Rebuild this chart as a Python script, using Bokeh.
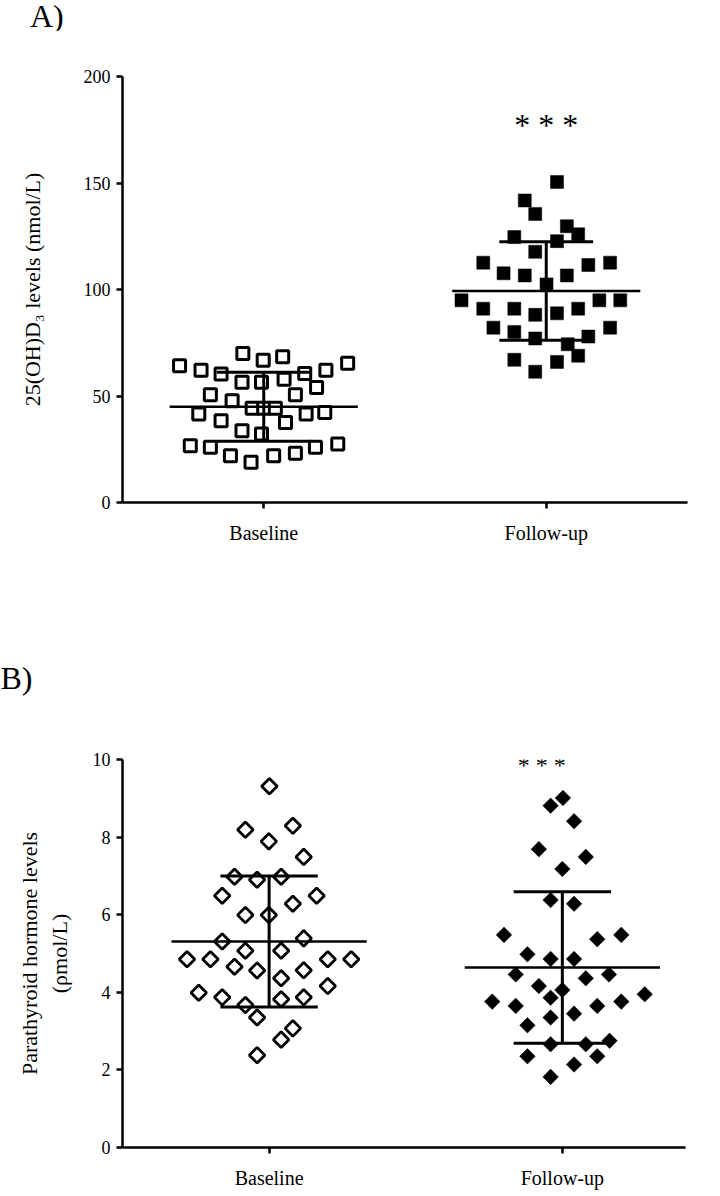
import numpy as np
from bokeh.plotting import figure
from bokeh.layouts import column
from bokeh.models import FixedTicker, Range1d, Div
from bokeh.embed import file_html
from bokeh.resources import INLINE
from bokeh.core.properties import value

# ---------------- data ----------------
groups = ["Baseline", "Follow-up"]

# Panel A: 25(OH)D3 (nmol/L)
vitd_base = [69.9, 66.8, 68.4, 64.2, 62.1, 60.3, 60.6, 62.1, 65.4, 56.4, 56.4, 57.9,
             54.0, 50.6, 50.6, 47.8, 44.3, 44.3, 44.3, 41.5, 41.5, 42.3, 38.4, 37.6,
             33.7, 32.2, 26.7, 25.9, 22.0, 18.9, 22.0, 23.1, 25.9, 27.5]
vitd_base_jit = [-0.074, -0.002, 0.067, -0.298, -0.222, -0.151, 0.145, 0.220, 0.297,
                 -0.077, -0.008, 0.072, 0.187, -0.189, 0.112, -0.112, -0.041, 0.0,
                 0.041, -0.230, 0.150, 0.216, -0.151, 0.077, -0.077, -0.008, -0.260,
                 -0.189, -0.118, -0.045, 0.035, 0.112, 0.183, 0.262]
vitd_fu = [150.5, 141.8, 135.5, 129.7, 125.9, 124.6, 122.7, 117.7, 112.6, 107.6, 106.6,
           106.6, 111.5, 112.6, 102.4, 94.9, 94.9, 94.9, 91.0, 91.0, 88.1, 88.8, 91.0,
           82.1, 80.1, 77.0, 77.9, 82.1, 74.3, 68.9, 67.0, 66.0, 61.4]
vitd_fu_jit = [0.038, -0.076, -0.039, 0.073, 0.113, -0.113, 0.038, -0.039, -0.223,
               -0.151, -0.076, 0.073, 0.149, 0.226, 0.001, -0.300, 0.188, 0.262,
               -0.223, -0.113, -0.039, 0.038, 0.113, -0.187, -0.113, -0.039, 0.149,
               0.226, 0.076, 0.113, -0.113, 0.038, -0.039]
vitd_mean = [45.0, 99.3]
vitd_sd = [16.2, 23.1]

# Panel B: parathyroid hormone (pmol/L)
pth_base = [9.31, 8.19, 8.29, 7.89, 7.49, 6.98, 6.90, 6.98, 6.49, 6.49, 6.28, 5.99,
            5.99, 5.31, 5.39, 5.07, 5.07, 4.85, 4.85, 4.85, 4.85, 4.66, 4.56, 4.57,
            4.36, 4.16, 3.99, 3.87, 3.67, 3.82, 3.87, 3.35, 3.07, 2.78, 2.38]
pth_base_jit = [0.001, -0.081, 0.081, -0.001, 0.118, -0.118, -0.041, 0.041, -0.160,
                0.162, 0.081, -0.081, -0.001, -0.160, 0.118, -0.081, 0.041, -0.280,
                -0.200, 0.200, 0.280, -0.118, -0.041, 0.118, 0.041, 0.200, -0.240,
                -0.160, -0.081, 0.041, 0.118, -0.041, 0.081, 0.041, -0.041]
pth_fu = [9.01, 8.81, 8.41, 7.69, 7.49, 7.18, 6.38, 6.28, 5.48, 5.37, 5.48, 4.98,
          4.86, 4.86, 4.46, 4.36, 4.46, 4.16, 4.06, 3.86, 3.76, 3.65, 3.65, 3.76,
          3.95, 3.35, 3.45, 3.15, 2.66, 2.66, 2.75, 2.35, 2.35, 2.14, 1.82]
pth_fu_jit = [0.002, -0.040, 0.040, -0.080, 0.080, 0.0, -0.040, 0.040, -0.199,
              0.119, 0.201, -0.119, -0.040, 0.040, -0.159, 0.080, 0.159, -0.080,
              0.0, -0.040, -0.239, -0.159, 0.119, 0.201, 0.281, -0.040, 0.040,
              -0.119, -0.040, 0.080, 0.161, -0.119, 0.119, 0.040, -0.040]
pth_mean = [5.31, 4.64]
pth_sd = [1.69, 1.95]

vitd_ticks = [0, 50, 100, 150, 200]
pth_ticks = [0, 2, 4, 6, 8, 10]
panel_titles = ["A)", "B)"]

FONT = "Liberation Serif"


def style(p, yticks):
    p.xgrid.visible = False
    p.ygrid.visible = False
    p.outline_line_color = None
    p.background_fill_color = "white"
    p.border_fill_color = "white"
    for ax in (p.xaxis[0], p.yaxis[0]):
        ax.axis_line_width = 2.5
        ax.axis_line_color = "black"
        ax.major_tick_line_width = 2.5
        ax.major_tick_line_color = "black"
        ax.major_tick_out = 6
        ax.major_tick_in = 0
        ax.minor_tick_line_color = None
        ax.major_label_text_font = FONT
        ax.major_label_text_color = "black"
        ax.axis_label_text_font = FONT
        ax.axis_label_text_font_style = "normal"
        ax.axis_label_text_color = "black"
    p.xaxis.ticker = FixedTicker(ticks=[0, 1])
    p.xaxis.major_label_overrides = {0: groups[0], 1: groups[1]}
    p.xaxis.major_label_text_font_size = "20px"
    p.xaxis.major_label_standoff = 13
    p.yaxis.ticker = FixedTicker(ticks=yticks)
    p.yaxis.major_label_text_font_size = "18px"
    p.yaxis.major_label_standoff = 6


def errbars(p, means, sds, lw=2.5, half_mean=0.333, half_cap=0.166):
    for i, (m, s) in enumerate(zip(means, sds)):
        p.segment(x0=[i - half_mean], y0=[m], x1=[i + half_mean], y1=[m],
                  line_color="black", line_width=lw)
        p.segment(x0=[i], y0=[m - s], x1=[i], y1=[m + s],
                  line_color="black", line_width=lw + 0.5)
        p.segment(x0=[i - half_cap, i - half_cap], y0=[m - s, m + s],
                  x1=[i + half_cap, i + half_cap], y1=[m - s, m + s],
                  line_color="black", line_width=lw + 0.5)


# ---------------- Panel A ----------------
divA = Div(text=panel_titles[0], width=704, height=30,
           styles={"font-family": FONT, "font-size": "32px", "line-height": "32px",
                   "padding-left": "30px", "margin": "0", "color": "black"})

pA = figure(frame_width=565, frame_height=426,
            x_range=Range1d(-0.5, 1.5), y_range=Range1d(0, 200),
            min_border_left=111, min_border_right=28,
            min_border_top=46, min_border_bottom=94,
            output_backend="svg", toolbar_location=None)
style(pA, vitd_ticks)
pA.yaxis.axis_label = "25(OH)D\u2083 levels (nmol/L)"
pA.yaxis.axis_label_text_font_size = "22px"
pA.yaxis.axis_label_standoff = 36

xa0 = [0 + j for j in vitd_base_jit]
xa1 = [1 + j for j in vitd_fu_jit]
pA.scatter(xa0, vitd_base, marker="square", size=12, line_width=3,
           line_color="black", fill_color="white")
pA.scatter(xa1, vitd_fu, marker="square", size=13, line_width=0.5,
           line_color="black", fill_color="black")
errbars(pA, vitd_mean, vitd_sd)
pA.text(x=[1], y=[177], text=["* * *"], text_font=value(FONT),
        text_font_size="32px", text_align="center", text_baseline="middle",
        text_color="black")

# ---------------- Panel B ----------------
pB = figure(frame_width=563, frame_height=388,
            x_range=Range1d(-0.5, 1.42), y_range=Range1d(0, 10),
            min_border_left=122, min_border_right=19,
            min_border_top=163, min_border_bottom=40,
            output_backend="svg", toolbar_location=None)
style(pB, pth_ticks)
pB.title.text = panel_titles[1]
pB.title.text_font = FONT
pB.title.text_font_size = "32px"
pB.title.text_font_style = "normal"
pB.title.text_color = "black"
pB.title.align = "left"
pB.title.vertical_align = "top"
pB.title.offset = -122
pB.title.standoff = 124
pB.yaxis.axis_label = "Parathyroid hormone levels\n(\u03c1mol/L)"
pB.yaxis.axis_label_text_font_size = "22px"
pB.yaxis.axis_label_standoff = 18

xb0 = [0 + j for j in pth_base_jit]
xb1 = [1 + j for j in pth_fu_jit]
pB.scatter(xb0, pth_base, marker="square", angle=np.pi / 4, size=11, line_width=2.8,
           line_color="black", fill_color="white")
pB.scatter(xb1, pth_fu, marker="square", angle=np.pi / 4, size=11, line_width=0.5,
           line_color="black", fill_color="black")
errbars(pB, pth_mean, pth_sd)
pB.text(x=[0.93], y=[9.85], text=["* * *"], text_font=value(FONT),
        text_font_size="24px", text_align="center", text_baseline="middle",
        text_color="black")

layout = column(divA, pA, pB, spacing=0)
open("out.html", "w").write(file_html(layout, INLINE))
